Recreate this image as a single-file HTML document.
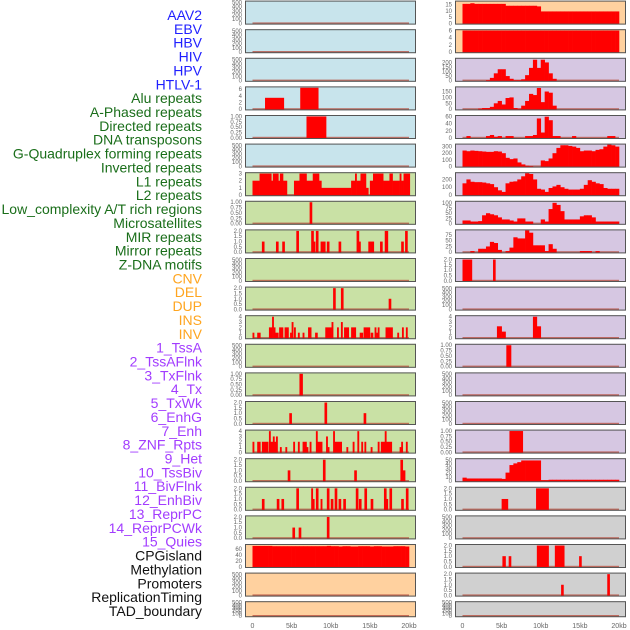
<!DOCTYPE html>
<html><head><meta charset="utf-8"><style>
body{margin:0;background:#fff;width:630px;height:630px;overflow:hidden}
svg{display:block}
.lab{font-family:"Liberation Sans",sans-serif;font-size:14px;text-anchor:end;dominant-baseline:central}
.tk{font-family:"Liberation Sans",sans-serif;font-size:6px;fill:#666;text-anchor:end}
.xt{font-family:"Liberation Sans",sans-serif;font-size:7px;fill:#666;text-anchor:middle}
</style></head><body>
<svg id="chart" width="630" height="630" xmlns="http://www.w3.org/2000/svg"></svg>
<script>
// ---- labels ----
const labels = ["AAV2","EBV","HBV","HIV","HPV","HTLV-1","Alu repeats","A-Phased repeats","Directed repeats","DNA transposons","G-Quadruplex forming repeats","Inverted repeats","L1 repeats","L2 repeats","Low_complexity A/T rich regions","Microsatellites","MIR repeats","Mirror repeats","Z-DNA motifs","CNV","DEL","DUP","INS","INV","1_TssA","2_TssAFlnk","3_TxFlnk","4_Tx","5_TxWk","6_EnhG","7_Enh","8_ZNF_Rpts","9_Het","10_TssBiv","11_BivFlnk","12_EnhBiv","13_ReprPC","14_ReprPCWk","15_Quies","CPGisland","Methylation","Promoters","ReplicationTiming","TAD_boundary"];
const labelGroups = [6,13,5,15,5];
const groupColors = ["#1f1fff","#1a6e1a","#ffa51f","#a23cff","#111111"];
const xTicks = [0,5,10,15,20];
const xTickLabels = ["0","5kb","10kb","15kb","20kb"];

// ---- tick label sets ----
const t500 = ["0","100","200","300","400","500"];
const t2 = ["0.0","0.5","1.0","1.5","2.0"];
const t1 = ["0.00","0.25","0.50","0.75","1.00"];
const t4 = ["0","1","2","3","4"];
const t6 = ["0","2","4","6"];

// ---- segment data [startKb, endKb, value] ----
const L3 = [[1.6,4.0,3.4],[6.1,8.4,6.4]];
const L4 = [[6.9,9.4,1]];
const L6 = [[0,0.9,2],[0.9,2.4,3],[2.4,2.6,2],[2.6,3.3,3],[3.3,3.5,2],[3.5,3.9,3],[3.9,4.4,2],[5.3,6.0,2],[6.0,6.9,3],[6.9,7.7,2],[7.7,8.5,3],[8.5,8.8,2],[8.8,12.6,1],[12.6,13.1,2],[13.1,13.3,3],[13.3,13.8,2],[13.8,14.5,3],[14.5,14.8,1],[15.0,15.4,2],[15.4,16.7,3],[16.7,17.5,2],[17.5,17.9,3],[17.9,18.8,2],[18.8,19.0,3],[19.0,19.3,2],[19.3,20.1,3]];
const L7 = [[7.3,7.6,1]];
const L8 = [[1.2,1.5,1],[3.0,3.3,1],[3.8,4.1,1],[5.6,5.9,2],[7.5,7.8,2],[7.8,8.0,1],[8.1,8.4,2],[8.7,9.0,1],[9.0,9.3,1],[9.5,9.8,1],[11.0,11.3,1],[13.3,13.6,2],[13.6,13.8,1],[14.8,15.1,1],[15.1,15.3,1],[15.3,15.5,1],[16.3,16.6,1],[16.9,17.1,2],[17.1,17.3,2],[19.0,19.3,1],[19.5,19.8,2]];
const L10 = [[10.3,10.6,2],[11.3,11.6,2],[17.4,17.7,1]];
const L11 = [[0,0.2,1],[0.6,1.0,1],[2.1,2.5,2],[2.5,2.7,4],[2.7,2.9,2],[2.9,3.3,1],[3.4,3.9,2],[4.1,4.6,2],[4.8,5.0,1],[5.0,5.2,3],[5.3,5.5,2],[5.8,6.0,1],[6.4,6.6,1],[7.1,7.5,2],[8.0,8.3,1],[9.3,10.1,2],[10.1,10.3,3],[10.8,11.0,2],[11.3,11.5,3],[11.7,12.3,2],[12.6,13.2,2],[13.7,14.1,1],[14.2,15.0,2],[15.1,15.4,1],[15.6,15.8,2],[15.8,16.0,1],[16.0,16.2,2],[17.0,17.9,2],[18.5,18.7,1],[19.1,19.3,2],[19.6,19.8,2]];
const L13 = [[6.0,6.4,1]];
const L14 = [[4.7,5.0,1],[9.2,9.5,2],[14.2,14.5,1]];
const L15 = [[0,0.2,2],[0.6,1.0,2],[1.2,2.0,2],[2.1,2.3,4],[2.3,2.6,2],[2.6,2.8,3],[2.8,3.0,2],[3.0,3.2,3],[3.5,3.7,1],[4.2,4.4,1],[5.2,5.4,2],[5.8,6.0,2],[6.4,6.9,2],[6.9,7.1,1],[7.3,7.5,2],[8.1,8.3,4],[8.3,8.9,2],[9.4,9.6,3],[9.6,9.8,1],[10.3,10.5,4],[10.5,11.4,2],[12.0,12.2,1],[12.8,13.0,2],[13.4,13.6,4],[13.9,14.1,2],[14.3,14.5,2],[15.1,15.3,1],[16.0,16.2,2],[16.4,16.9,2],[16.9,17.1,4],[17.1,17.8,2],[18.8,19.0,1],[19.0,19.2,2],[19.6,19.8,2]];
const L16 = [[4.5,4.8,1],[9.0,9.3,2],[13.0,13.3,1],[18.9,19.2,2],[19.2,19.5,1]];
const L17 = [[1.2,1.5,1],[3.1,3.4,1],[3.7,4.0,1],[5.6,5.9,2],[7.5,7.7,2],[7.7,7.9,1],[8.1,8.4,2],[8.7,8.9,1],[9.5,9.8,2],[10.0,10.3,1],[10.5,10.8,2],[11.0,11.3,1],[11.6,11.9,1],[13.2,13.5,2],[13.6,13.9,1],[14.3,14.6,2],[15.1,15.4,1],[16.8,17.1,2],[17.1,17.3,1],[17.5,17.8,2],[19.0,19.3,1],[19.6,19.9,2]];
const L18 = [[5.1,5.4,1],[5.9,6.2,1],[9.5,9.8,2]];
const R9 = [[0,1.2,2],[3.9,4.2,2]];
const R11 = [[4.4,5.0,2.2],[5.0,5.5,1.2],[9.0,9.5,4],[9.5,10.0,2.2]];
const R12 = [[5.6,6.2,1]];
const R15 = [[6.0,7.7,1]];
const R17 = [[5.0,5.8,1],[9.4,11.0,2]];
const R19 = [[5.1,5.5,1],[5.9,6.2,1],[9.5,11.0,2],[11.8,13.0,2],[14.9,15.2,1]];
const R20 = [[12.6,12.9,1],[18.5,18.8,2]];

// ---- binned data (0.5kb bins, 0–20kb) ----
const L19bins = [70,70,70,70,70,69,69,69,69,69,69,69,69,69,69,69,69,69,69,70,69,69,68,69,69,68,68,69,69,69,68,69,69,68,68,68,69,69,69,68];
const R0bins = [15.5,15.5,16,15.5,15.5,15.5,15.5,15.5,15.5,15.5,15.5,14,14,14,14,14,14,14,14,13.5,9.5,9.5,9.5,9.5,9.5,9.5,9.5,9.5,9.5,9.5,9.5,9.5,9.5,9.5,9.5,9.5,9.5,9.5,9.5,9.5];
const R1bins = [6,6,6,6,6,6,6,6,6,6,6,6,6,6,6,6,6,6,6,6,6,6,6,6,6,6,6,6,6,6,6,6,6,6,6,6,6,6,6,6];
const R2bins = [0,0,0,0,0,0,5,30,80,125,125,50,20,5,5,15,60,140,230,140,230,200,80,20,0,0,0,0,0,0,0,0,0,0,0,0,0,0,0,0];
const R3bins = [0,0,0,0,5,10,10,20,50,70,40,95,100,10,5,30,70,130,120,180,60,150,140,30,0,0,0,0,0,0,0,0,0,0,0,0,0,0,0,0];
const R4bins = [0,5,0,0,0,0,5,8,3,5,0,5,5,0,0,0,5,5,8,55,15,60,50,5,5,0,0,0,5,0,0,0,0,0,0,0,0,5,5,0];
const R5bins = [240,230,240,235,230,225,220,220,230,225,200,130,110,120,60,30,10,5,0,0,90,80,120,200,280,320,320,310,300,280,230,240,240,230,250,260,300,330,320,300];
const R6bins = [150,200,170,165,165,160,150,140,100,60,40,150,170,175,200,240,280,270,200,80,70,40,90,110,130,100,80,70,70,70,80,130,190,170,150,140,90,80,80,80];
const R7bins = [15,15,10,10,12,40,50,45,40,30,20,20,15,10,25,25,10,10,0,0,20,10,70,100,90,60,20,20,20,20,35,40,40,30,10,10,10,10,10,10];
const R8bins = [0,0,5,0,15,15,25,45,40,10,0,5,20,65,60,60,95,85,30,30,30,5,35,15,0,0,0,0,0,0,5,5,5,0,5,0,0,0,0,0];
const R16bins = [8,6,6,6,6,6,6,6,6,6,5,20,38,42,45,49,49,49,49,49,2,2,3,3,3,3,3,3,3,3,3,3,3,3,3,3,3,3,3,3];

const BLUE="#c8e4ec", GREEN="#c9e1a5", ORANGE="#ffd19f", PURPLE="#d6c7e2", GRAY="#d0d0d0";
function E(){return {ticks:t500,tv:[0,100,200,300,400,500],max:520,segs:[]};}
function tn(a){return a.map(Number);}
const panels = [
 // left column
 Object.assign(E(),{col:0,bg:BLUE}), Object.assign(E(),{col:0,bg:BLUE}), Object.assign(E(),{col:0,bg:BLUE}),
 {col:0,bg:BLUE,ticks:t6,tv:tn(t6),max:6.5,segs:L3},
 {col:0,bg:BLUE,ticks:t1,tv:tn(t1),max:1.02,segs:L4},
 Object.assign(E(),{col:0,bg:BLUE}),
 {col:0,bg:GREEN,ticks:["0","1","2","3"],tv:[0,1,2,3],max:3.05,segs:L6},
 {col:0,bg:GREEN,ticks:t1,tv:tn(t1),max:1.02,segs:L7},
 {col:0,bg:GREEN,ticks:t2,tv:tn(t2),max:2.05,segs:L8},
 Object.assign(E(),{col:0,bg:GREEN}),
 {col:0,bg:GREEN,ticks:t2,tv:tn(t2),max:2.05,segs:L10},
 {col:0,bg:GREEN,ticks:t4,tv:tn(t4),max:4.1,segs:L11},
 Object.assign(E(),{col:0,bg:GREEN}),
 {col:0,bg:GREEN,ticks:t1,tv:tn(t1),max:1.02,segs:L13},
 {col:0,bg:GREEN,ticks:t2,tv:tn(t2),max:2.05,segs:L14},
 {col:0,bg:GREEN,ticks:t4,tv:tn(t4),max:4.1,segs:L15},
 {col:0,bg:GREEN,ticks:t2,tv:tn(t2),max:2.05,segs:L16},
 {col:0,bg:GREEN,ticks:t2,tv:tn(t2),max:2.05,segs:L17},
 {col:0,bg:GREEN,ticks:t2,tv:tn(t2),max:2.05,segs:L18},
 {col:0,bg:ORANGE,ticks:["0","20","40","60"],tv:[0,20,40,60],max:73,bins:L19bins},
 Object.assign(E(),{col:0,bg:ORANGE}), Object.assign(E(),{col:0,bg:ORANGE}),
 // right column
 {col:1,bg:ORANGE,ticks:["0","5","10","15"],tv:[0,5,10,15],max:17.3,bins:R0bins},
 {col:1,bg:ORANGE,ticks:t6,tv:tn(t6),max:6.1,bins:R1bins},
 {col:1,bg:PURPLE,ticks:["0","50","100","150","200"],tv:[0,50,100,150,200],max:240,bins:R2bins},
 {col:1,bg:PURPLE,ticks:["0","50","100","150"],tv:[0,50,100,150],max:185,bins:R3bins},
 {col:1,bg:PURPLE,ticks:["0","20","40","60"],tv:[0,20,40,60],max:62,bins:R4bins},
 {col:1,bg:PURPLE,ticks:["0","100","200","300"],tv:[0,100,200,300],max:330,bins:R5bins},
 {col:1,bg:PURPLE,ticks:["0","100","200"],tv:[0,100,200],max:280,bins:R6bins},
 {col:1,bg:PURPLE,ticks:["0","25","50","75","100"],tv:[0,25,50,75,100],max:105,bins:R7bins},
 {col:1,bg:PURPLE,ticks:["0","25","50","75"],tv:[0,25,50,75],max:95,bins:R8bins},
 {col:1,bg:PURPLE,ticks:t2,tv:tn(t2),max:2.05,segs:R9},
 Object.assign(E(),{col:1,bg:PURPLE}),
 {col:1,bg:PURPLE,ticks:t4,tv:tn(t4),max:4.1,segs:R11},
 {col:1,bg:PURPLE,ticks:t1,tv:tn(t1),max:1.02,segs:R12},
 Object.assign(E(),{col:1,bg:PURPLE}), Object.assign(E(),{col:1,bg:PURPLE}),
 {col:1,bg:PURPLE,ticks:t1,tv:tn(t1),max:1.02,segs:R15},
 {col:1,bg:PURPLE,ticks:["0","10","20","30","40","50"],tv:[0,10,20,30,40,50],max:52,bins:R16bins},
 {col:1,bg:GRAY,ticks:t2,tv:tn(t2),max:2.05,segs:R17},
 Object.assign(E(),{col:1,bg:GRAY}),
 {col:1,bg:GRAY,ticks:t2,tv:tn(t2),max:2.05,segs:R19},
 {col:1,bg:GRAY,ticks:t2,tv:tn(t2),max:2.05,segs:R20},
 Object.assign(E(),{col:1,bg:GRAY})
];

const svg = document.getElementById('chart');
const NS = "http://www.w3.org/2000/svg";
function mk(tag, attrs, parent){const e=document.createElementNS(NS,tag);for(const k in attrs)e.setAttribute(k,attrs[k]);(parent||svg).appendChild(e);return e;}
const colLeft=[245,455], PW=171, PITCH=28.6, TOP0=0.6;
function xs(col,kb){return colLeft[col]+7.5+kb*(164-7.5)/20;}
function rowTop(r){return TOP0+r*PITCH;}
function rowH(r){return r===21?16:24;}
function ys(r,v,max){const b=rowTop(r)+rowH(r)-1.2, t=rowTop(r)+1;return b-(v/max)*(b-t);}

// labels
let gi=0, cnt=0;
labels.forEach((t,i)=>{
  const el=mk('text',{class:'lab',x:202,y:15+13.86*i,fill:groupColors[gi]});
  el.textContent=t;
  
  
  cnt++; if(cnt>=labelGroups[gi]){gi++;cnt=0;}
});

// panels
panels.forEach((p,idx)=>{
  const r=idx%22, col=p.col;
  const g=mk('g',{});
  
  
  const top=rowTop(r), h=rowH(r);
  mk('rect',{x:colLeft[col],y:top,width:PW,height:h,fill:p.bg},g);
  // baseline
  const bl=mk('rect',{x:xs(col,0),y:ys(r,0,p.max)-1,width:xs(col,20)-xs(col,0),height:1.6,fill:'#b54a3a',opacity:0.75},g);
  
  
  let segs=p.segs||[];
  if(p.bins){segs=p.bins.map((v,i)=>[i*0.5,i*0.5+0.5,v]);}
  segs.forEach(s=>{
    if(s[2]<=0)return;
    const x0=xs(col,s[0]), x1=xs(col,s[1]);
    const y=ys(r,s[2],p.max), yb=ys(r,0,p.max)+0.6;
    const b=mk('rect',{x:x0,y:y,width:Math.max(1.5,x1-x0+0.3),height:yb-y,fill:'#ff0000'},g);
    
    
  });
  mk('rect',{x:colLeft[col]+0.5,y:top+0.5,width:PW-1,height:h-1,fill:'none',stroke:'#555',"stroke-width":1},g);
  p.ticks.forEach((t,i)=>{
    const tx=mk('text',{class:'tk',x:colLeft[col]-3,y:ys(r,p.tv[i],p.max)+2},g);
    tx.textContent=t;
    
    
  });
});

// x axis tick labels
[0,1].forEach(col=>{
  xTicks.forEach((k,i)=>{
    const t=mk('text',{class:'xt',x:xs(col,k),y:628});
    t.textContent=xTickLabels[i];
    
    
  });
});
</script>
</body></html>
